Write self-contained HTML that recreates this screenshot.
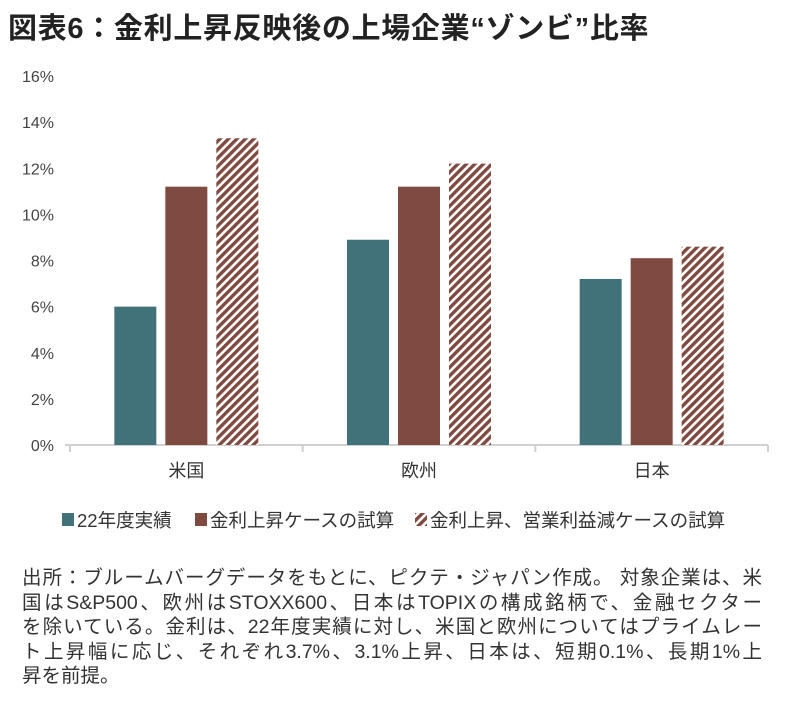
<!DOCTYPE html>
<html><head><meta charset="utf-8"><style>
body{margin:0;background:#fff;width:792px;height:707px;overflow:hidden;font-family:"Liberation Sans","Noto Sans CJK JP",sans-serif;}
#title{position:absolute;left:8px;top:5px;font-size:29px;font-weight:bold;color:#222;letter-spacing:0.7px;white-space:nowrap;}
#note{position:absolute;left:22px;top:566px;width:770px;font-size:19.5px;line-height:24.5px;color:#333;white-space:nowrap;}
#note span.j{display:block;width:740px;text-align:justify;text-align-last:justify;}
svg{position:absolute;left:0;top:0}
</style></head><body>
<div id="title">図表6：金利上昇反映後の上場企業“ゾンビ”比率</div>
<svg id="c" width="792" height="560">
<defs><pattern id="hatch" patternUnits="userSpaceOnUse" width="6" height="6" patternTransform="rotate(45)">
<rect width="6" height="6" fill="#fff"/><rect width="3.4" height="6" fill="#7f4a40"/></pattern></defs>
</svg>
<div id="note"><span class="j">出所：ブルームバーグデータをもとに、ピクテ・ジャパン作成。 対象企業は、米</span><span class="j">国はS&amp;P500、欧州はSTOXX600、日本はTOPIXの構成銘柄で、金融セクター</span><span class="j">を除いている。金利は、22年度実績に対し、米国と欧州についてはプライムレー</span><span class="j">ト上昇幅に応じ、それぞれ3.7%、3.1%上昇、日本は、短期0.1%、長期1%上</span><span>昇を前提。</span></div>
<script>
const categories=["米国","欧州","日本"];
const seriesNames=["22年度実績","金利上昇ケースの試算","金利上昇、営業利益減ケースの試算"];
const actual=[6.0,8.9,7.2];
const rateUp=[11.2,11.2,8.1];
const rateUpProfitDown=[13.3,12.2,8.6];
const yTicks=[0,2,4,6,8,10,12,14,16];
const svg=document.getElementById('c');
const NS='http://www.w3.org/2000/svg';
const x0=70,x1=768,y0=445,y1=76;
const y=v=>y0-(v-0)/(16-0)*(y0-y1);
const gw=(x1-x0)/categories.length;
function mk(t,a){const e=document.createElementNS(NS,t);for(const k in a)e.setAttribute(k,a[k]);svg.appendChild(e);return e;}
yTicks.forEach(t=>{const e=mk('text',{x:54,y:y(t)+6,'text-anchor':'end','font-size':16,fill:'#444'});e.textContent=t+'%';

});
const ax=mk('line',{x1:x0-5,x2:x1,y1:y0,y2:y0,stroke:'#d0d0d0','stroke-width':2});


for(let i=0;i<=categories.length;i++){const tk=mk('line',{x1:x0+i*gw,x2:x0+i*gw,y1:y0,y2:y0+7,stroke:'#d0d0d0','stroke-width':2});

}
const series=[actual,rateUp,rateUpProfitDown];
const fills=['#41727a','#7f4a40','url(#hatch)'];
const bw=42,gap=9;
categories.forEach((c,i)=>{
 const cx=x0+gw*(i+0.5);
 series.forEach((s,j)=>{
  const bx=cx-(3*bw+2*gap)/2+j*(bw+gap);
  const r=mk('rect',{x:bx,y:y(s[i]),width:bw,height:y0-y(s[i]),fill:fills[j]});
  
  
 });
 const l=mk('text',{x:cx,y:477,'text-anchor':'middle','font-size':18,fill:'#333'});l.textContent=c;
 
 
});
const legX=[77,210,430];
seriesNames.forEach((n,j)=>{
 const r=mk('rect',{x:legX[j]-15,y:513,width:12,height:13,fill:fills[j]});
 
 
 const t=mk('text',{x:legX[j],y:527,'font-size':18.5,fill:'#333'});t.textContent=n;
 
 
});
</script>
</body></html>
